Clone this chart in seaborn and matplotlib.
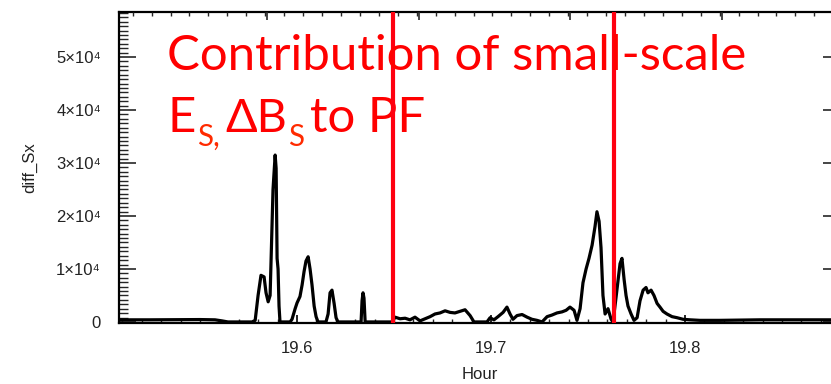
import numpy as np
import pandas as pd
import matplotlib
matplotlib.use("Agg")
import matplotlib.pyplot as plt
import seaborn as sns
from matplotlib.ticker import FixedLocator, FixedFormatter, MultipleLocator

# ---- data ----
hours = [19.5082, 19.5242, 19.5500, 19.5577, 19.5613, 19.5644, 19.5680, 19.5732, 19.5768,
         19.5784, 19.5799, 19.5814, 19.5830, 19.5840, 19.5851, 19.5861, 19.5871, 19.5876,
         19.5887, 19.5892, 19.5897, 19.5902, 19.5907, 19.5912, 19.5964, 19.5974, 19.5990,
         19.6000, 19.6015, 19.6026, 19.6036, 19.6046, 19.6057, 19.6067, 19.6077, 19.6088,
         19.6098, 19.6108, 19.6149, 19.6160, 19.6170, 19.6180, 19.6191, 19.6201, 19.6211,
         19.6330, 19.6335, 19.6340, 19.6345, 19.6351, 19.6490, 19.6505, 19.6531, 19.6557,
         19.6582, 19.6608, 19.6634, 19.6660, 19.6686, 19.6711, 19.6737, 19.6763, 19.6789,
         19.6814, 19.6840, 19.6866, 19.6892, 19.6912, 19.6943, 19.6979, 19.6995, 19.7015,
         19.7036, 19.7062, 19.7082, 19.7098, 19.7113, 19.7134, 19.7160, 19.7186, 19.7211,
         19.7237, 19.7263, 19.7289, 19.7314, 19.7340, 19.7366, 19.7387, 19.7407, 19.7428,
         19.7443, 19.7459, 19.7474, 19.7490, 19.7505, 19.7521, 19.7536, 19.7546, 19.7557,
         19.7567, 19.7577, 19.7588, 19.7603, 19.7619, 19.7629, 19.7644, 19.7655, 19.7665,
         19.7675, 19.7686, 19.7696, 19.7706, 19.7722, 19.7737, 19.7753, 19.7768, 19.7784,
         19.7799, 19.7809, 19.7825, 19.7840, 19.7856, 19.7871, 19.7887, 19.7907, 19.7933,
         19.7959, 19.7990, 19.8026, 19.8077, 19.8180, 19.8387, 19.8799]
diff_sx = [400, 400, 450, 400, 200, 0, 0, 0, 0,
           300, 5000, 8800, 8500, 5500, 3800, 5000, 18000, 25000,
           31500, 29000, 12000, 10000, 3000, 0, 0, 500, 2500,
           3600, 4800, 7000, 9500, 11500, 12300, 10000, 7000, 3000,
           1000, 0, 0, 1500, 5500, 6000, 3500, 800, 0,
           0, 4000, 5500, 4500, 0, 0, 900, 600, 700,
           400, 900, 200, 600, 1000, 1500, 1700, 2100, 1800,
           1700, 2000, 2300, 1200, 0, 0, 0, 800, 400,
           1000, 1800, 2800, 1500, 500, 1200, 1400, 900, 500,
           300, 0, 1000, 1300, 1700, 1900, 2200, 2800, 2200,
           300, 2500, 7400, 10000, 12000, 14500, 18000, 20800, 19000,
           14000, 5000, 1500, 2500, 500, 0, 4500, 8000, 11000,
           12000, 8000, 5000, 3000, 1500, 300, 800, 4000, 6000,
           6500, 5500, 6000, 5000, 3500, 2800, 2000, 1500, 1000,
           800, 500, 400, 300, 300, 400, 400]
event_hours = [19.6495, 19.7634]
x_major = [19.6, 19.7, 19.8]
y_major = [0, 10000, 20000, 30000, 40000, 50000]
y_labels = ["0", "1×10⁴", "2×10⁴", "3×10⁴", "4×10⁴", "5×10⁴"]
top_major = [19.58454, 19.66273, 19.74088, 19.81907]
title_line1 = "Contribution of small-scale"

df = pd.DataFrame({"Hour": hours, "diff_Sx": diff_sx})

sns.set_theme(style="ticks")
plt.rcParams["font.family"] = ["Liberation Sans", "DejaVu Sans"]

W, H = 831, 384
fig = plt.figure(figsize=(W / 100, H / 100), dpi=100)
left, right, top, bottom = 119, 840, 12, 323
ax = fig.add_axes([left / W, (H - bottom) / H, (right - left) / W, (bottom - top) / H])

sns.lineplot(data=df, x="Hour", y="diff_Sx", color="black", linewidth=2.3, ax=ax,
             sort=False, estimator=None)
for eh in event_hours:
    ax.axvline(eh, color="#ff0010", linewidth=3.0, zorder=5)

ax.set_xlim(19.5082, 19.8799)
ax.set_ylim(-200, 58500)

for s in ax.spines.values():
    s.set_linewidth(1.6)
    s.set_color("black")

ax.xaxis.set_major_locator(FixedLocator(x_major))
ax.xaxis.set_major_formatter(FixedFormatter([f"{v:.1f}" for v in x_major]))
ax.xaxis.set_minor_locator(MultipleLocator(0.01))
ax.yaxis.set_major_locator(FixedLocator(y_major))
ax.yaxis.set_major_formatter(FixedFormatter(y_labels))
ax.yaxis.set_minor_locator(MultipleLocator(10000 / 12))

ax.tick_params(axis="x", which="major", direction="in", length=5.5, width=1.2,
               top=False, bottom=True, labelsize=12, pad=13, colors="black",
               labelcolor="#222222")
ax.tick_params(axis="x", which="minor", direction="in", length=2.8, width=1.0,
               top=False, bottom=True)
ax.tick_params(axis="y", which="major", direction="in", length=12.5, width=1.2,
               left=True, right=True, labelsize=12, pad=13, labelcolor="#222222")
ax.tick_params(axis="y", which="minor", direction="in", length=6.5, width=1.0,
               left=True, right=True)

ax.set_xlabel("Hour", fontsize=12, color="#222222")
ax.set_ylabel("diff_Sx", fontsize=12, color="#222222")
ax.xaxis.set_label_coords(0.5, -0.143)
ax.yaxis.set_label_coords(-0.114, 0.5)

# top axis with its own ticks
ax2 = ax.twiny()
ax2.set_xlim(ax.get_xlim())
ax2.xaxis.set_major_locator(FixedLocator(top_major))
ax2.xaxis.set_minor_locator(MultipleLocator(0.0781 / 8))
ax2.tick_params(axis="x", which="major", direction="in", length=5.5, width=1.2,
                top=True, labeltop=False, bottom=False, labelbottom=False)
ax2.tick_params(axis="x", which="minor", direction="in", length=2.8, width=1.0,
                top=True, bottom=False)
for s in ax2.spines.values():
    s.set_visible(False)
ax2.grid(False)
ax.grid(False)

# red annotation text
red = "#ff0000"
sub_red = "#ff2a00"
tfont = ["Lato", "DejaVu Sans"]
fs = 35.4
fig.text(167 / W, (H - 70) / H, title_line1, color=red, fontsize=fs, family=tfont,
         va="baseline", ha="left")

# (text, size, colour, baseline shift pt, extra x gap pt)
pieces = [("E", fs, red, 0, 0), ("S,", fs * 0.6, sub_red, -8, 1),
          ("ΔB", fs * 0.95, red, 0, 4), ("S", fs * 0.6, sub_red, -8, 1),
          ("to PF", fs, red, 0, 4)]
prev = fig.text(167 / W, (H - 132) / H, pieces[0][0], color=pieces[0][2], fontsize=fs,
                family=tfont, va="baseline", ha="left")
prev_dy = 0
for txt, size, col, dy, gap in pieces[1:]:
    prev = ax.annotate(txt, xy=(1, 0), xycoords=prev, xytext=(gap, dy - prev_dy),
                       textcoords="offset points", color=col, fontsize=size,
                       family=tfont, va="bottom", ha="left", annotation_clip=False)
    prev_dy = dy

fig.savefig("out.png", dpi=100)
